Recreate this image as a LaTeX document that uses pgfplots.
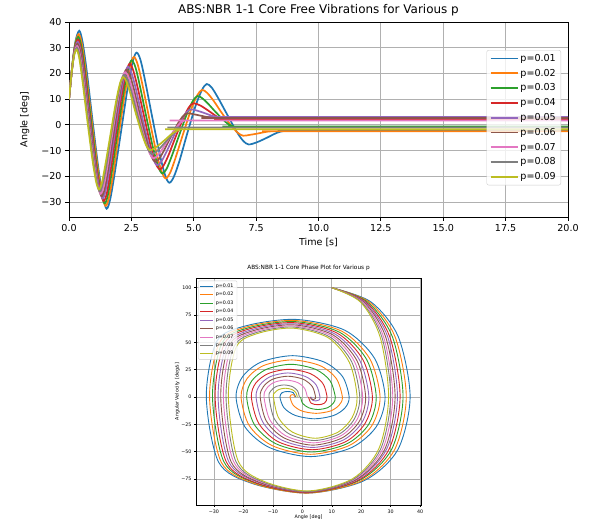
\documentclass[border=0pt]{standalone}
\usepackage{pgfplots}
\pgfplotsset{compat=1.18}
\usepackage{pgfplotstable}
\usepackage{fontspec}
\setmainfont{DejaVu Sans}
\definecolor{C0}{HTML}{1F77B4}
\definecolor{C1}{HTML}{FF7F0E}
\definecolor{C2}{HTML}{2CA02C}
\definecolor{C3}{HTML}{D62728}
\definecolor{C4}{HTML}{9467BD}
\definecolor{C5}{HTML}{8C564B}
\definecolor{C6}{HTML}{E377C2}
\definecolor{C7}{HTML}{7F7F7F}
\definecolor{C8}{HTML}{BCBD22}
\definecolor{gridc}{HTML}{B0B0B0}
\definecolor{legc}{HTML}{CCCCCC}

% columns: t = time [s], a = angle [deg], v = angular velocity [deg/s]
\pgfplotstableread{
t a v
0 10 100
0.135 23.3 87
0.262 32.6 55
0.41 36.6 0
0.54 32.4 -48.4
0.71 21.0 -76.6
0.94 2.0 -88.0
1.18 -17.0 -79.2
1.37 -28.4 -59.8
1.51 -32.6 0
1.65 -29.0 51.1
1.83 -18.9 65.3
2.09 -2.3 71.0
2.35 14.4 61.1
2.55 24.5 35.5
2.71 28.1 0
2.87 25.1 -27.3
3.06 16.7 -46.4
3.34 2.8 -54.6
3.63 -11.1 -46.4
3.85 -19.5 -27.3
4.02 -22.5 0
4.20 -20.2 18.9
4.43 -13.9 32.1
4.74 -3.3 37.8
5.07 7.3 32.1
5.33 13.6 18.9
5.52 15.9 0
5.72 14.5 -10.0
5.97 10.6 -17.0
6.33 4.2 -20.0
6.70 -2.3 -17.0
6.98 -6.2 -10.0
7.20 -7.6 0
7.52 -6.8 4.0
7.93 -5.0 5.0
8.33 -3.1 4.0
8.65 -2.3 0
9.2 -2.3 nan
20 -2.3 nan
}\tA
\pgfplotstableread{
t a v
0 10 100
0.129 22.7 87
0.250 31.5 55
0.39 35.3 0
0.52 31.3 -48.4
0.68 20.3 -76.6
0.91 1.9 -88.0
1.15 -16.5 -79.2
1.33 -27.5 -59.8
1.47 -31.5 0
1.61 -28.0 50.4
1.78 -18.5 64.4
2.01 -2.6 70.0
2.26 13.4 60.2
2.45 22.9 35.0
2.60 26.4 0
2.75 23.6 -26.3
2.94 15.8 -44.6
3.21 2.8 -52.5
3.49 -10.2 -44.6
3.71 -18.0 -26.3
3.87 -20.8 0
4.05 -18.7 17.0
4.26 -13.1 28.8
4.57 -3.6 33.9
4.89 5.9 28.8
5.14 11.5 17.0
5.33 13.6 0
5.53 12.5 -7.5
5.78 9.6 -12.8
6.12 4.7 -15.0
6.49 -0.2 -12.8
6.77 -3.1 -7.5
6.98 -4.2 0
7.23 -3.9 1.7
7.54 -3.4 2.1
7.85 -2.8 1.7
8.10 -2.5 0
8.6 -2.5 nan
20 -2.5 nan
}\tB
\pgfplotstableread{
t a v
0 10 100
0.122 22.1 87
0.237 30.6 55
0.37 34.2 0
0.50 30.3 -48.1
0.66 19.6 -76.1
0.88 1.9 -87.5
1.11 -15.9 -78.8
1.29 -26.6 -59.5
1.43 -30.5 0
1.56 -27.2 49.7
1.72 -18.0 63.5
1.95 -2.7 69.0
2.19 12.6 59.3
2.37 21.8 34.5
2.51 25.1 0
2.66 22.5 -25.2
2.84 15.2 -42.8
3.10 3.1 -50.4
3.37 -9.0 -42.8
3.58 -16.3 -25.2
3.74 -18.9 0
3.91 -17.1 15.0
4.12 -12.1 25.4
4.42 -3.9 29.9
4.73 4.4 25.4
4.97 9.4 15.0
5.15 11.2 0
5.32 10.5 -5.8
5.54 8.6 -9.8
5.85 5.3 -11.5
6.17 2.1 -9.8
6.41 0.1 -5.8
6.60 -0.6 0
7.1 -0.6 nan
20 -0.6 nan
}\tC
\pgfplotstableread{
t a v
0 10 100
0.119 21.6 87
0.230 29.7 55
0.36 33.2 0
0.48 29.4 -48.1
0.64 19.1 -76.1
0.85 1.8 -87.5
1.08 -15.5 -78.8
1.26 -25.8 -59.5
1.39 -29.6 0
1.52 -26.4 49.0
1.67 -17.6 62.6
1.89 -2.9 68.0
2.12 11.8 58.5
2.30 20.6 34.0
2.43 23.8 0
2.57 21.3 -24.2
2.75 14.6 -41.1
3.01 3.3 -48.3
3.27 -8.1 -41.1
3.47 -14.8 -24.2
3.63 -17.3 0
3.79 -15.8 12.7
4.00 -11.5 21.5
4.28 -4.5 25.3
4.58 2.6 21.5
4.81 6.9 12.7
4.99 8.4 0
5.27 7.5 -5.7
5.62 5.3 -7.1
5.97 3.0 -5.7
6.25 2.1 0
6.8 2.1 nan
20 2.1 nan
}\tD
\pgfplotstableread{
t a v
0 10 100
0.116 21.2 87
0.224 29.0 55
0.35 32.3 0
0.47 28.6 -47.9
0.62 18.6 -75.7
0.83 1.9 -87.0
1.05 -14.9 -78.3
1.22 -25.0 -59.2
1.35 -28.6 0
1.47 -25.5 48.2
1.62 -17.1 61.6
1.84 -3.0 67.0
2.06 11.1 57.6
2.23 19.5 33.5
2.36 22.6 0
2.50 20.3 -23.1
2.68 14.0 -39.3
2.92 3.5 -46.2
3.18 -7.1 -39.3
3.38 -13.4 -23.1
3.53 -15.7 0
3.69 -14.4 11.0
3.89 -10.8 18.7
4.17 -4.9 22.0
4.46 1.1 18.7
4.69 4.7 11.0
4.86 6.0 0
5.11 5.6 -2.9
5.43 4.6 -3.6
5.75 3.5 -2.9
6.00 3.1 0
6.5 3.1 nan
20 3.1 nan
}\tE
\pgfplotstableread{
t a v
0 10 100
0.112 20.8 87
0.218 28.3 55
0.34 31.5 0
0.46 28.0 -47.9
0.60 18.2 -75.7
0.81 1.9 -87.0
1.02 -14.4 -78.3
1.18 -24.2 -59.2
1.31 -27.7 0
1.43 -24.8 47.5
1.58 -16.6 60.7
1.79 -3.1 66.0
2.00 10.4 56.8
2.17 18.6 33.0
2.30 21.5 0
2.44 19.4 -22.1
2.61 13.5 -37.5
2.85 3.6 -44.1
3.11 -6.2 -37.5
3.30 -12.2 -22.1
3.45 -14.3 0
3.61 -13.2 9.5
3.80 -10.1 16.2
4.07 -4.9 19.0
4.35 0.3 16.2
4.57 3.4 9.5
4.74 4.5 0
4.97 4.2 -1.9
5.27 3.6 -2.4
5.57 3.0 -1.9
5.80 2.7 0
6.3 2.7 nan
20 2.7 nan
}\tF
\pgfplotstableread{
t a v
0 10 100
0.107 20.4 87
0.208 27.6 55
0.325 30.7 0
0.44 27.3 -47.6
0.58 17.8 -75.3
0.78 2.0 -86.5
0.99 -13.9 -77.9
1.15 -23.4 -58.8
1.27 -26.8 0
1.39 -24.0 46.8
1.54 -16.2 59.8
1.74 -3.2 65.0
1.96 9.9 55.9
2.12 17.7 32.5
2.25 20.5 0
2.39 18.5 -21.0
2.56 13.0 -35.7
2.79 3.8 -42.0
3.04 -5.5 -35.7
3.23 -11.0 -21.0
3.38 -13.0 0
3.53 -12.1 7.8
3.72 -9.7 13.2
3.98 -5.7 15.5
4.25 -1.6 13.2
4.46 0.8 7.8
4.62 1.7 0
5.1 1.7 nan
20 1.7 nan
}\tG
\pgfplotstableread{
t a v
0 10 100
0.104 20.0 87
0.202 27.0 55
0.315 30.0 0
0.43 26.6 -47.6
0.56 17.4 -75.3
0.76 2.1 -86.5
0.96 -13.3 -77.9
1.12 -22.6 -58.8
1.235 -25.9 0
1.35 -23.2 46.1
1.50 -15.7 58.9
1.70 -3.2 64.0
1.92 9.3 55.0
2.08 16.8 32.0
2.21 19.5 0
2.34 17.7 -20.0
2.51 12.6 -33.9
2.74 4.1 -39.9
2.98 -4.4 -33.9
3.17 -9.5 -20.0
3.31 -11.3 0
3.46 -10.7 5.5
3.65 -9.0 9.4
3.91 -6.2 11.0
4.19 -3.3 9.4
4.40 -1.6 5.5
4.56 -1.0 0
5.0 -1.0 nan
20 -1.0 nan
}\tH
\pgfplotstableread{
t a v
0 10 100
0.099 19.7 87
0.192 26.4 55
0.30 29.3 0
0.41 26.0 -47.3
0.54 17.1 -74.8
0.73 2.1 -86.0
0.93 -12.9 -77.4
1.08 -21.8 -58.5
1.20 -25.1 0
1.32 -22.5 45.4
1.46 -15.3 58.0
1.67 -3.3 63.0
1.88 8.8 54.2
2.04 16.0 31.5
2.17 18.6 0
2.30 16.9 -18.9
2.46 12.2 -32.1
2.68 4.4 -37.8
2.92 -3.4 -32.1
3.10 -8.1 -18.9
3.24 -9.8 0
3.39 -9.3 4.0
3.58 -8.0 6.8
3.85 -5.8 8.0
4.12 -3.5 6.8
4.34 -2.2 4.0
4.50 -1.7 0
4.9 -1.7 nan
20 -1.7 nan
}\tI

\begin{document}
\begin{tikzpicture}
\path[use as bounding box] (0bp,0bp) rectangle (592bp,524bp);
% ---------------- top: time history ----------------
\begin{axis}[
  at={(69bp,307bp)}, anchor=south west, scale only axis,
  width=499bp, height=195bp,
  xmin=0, xmax=20, ymin=-35.8, ymax=40,
  xtick={0,2.5,5,7.5,10,12.5,15,17.5,20},
  xticklabels={0.0,2.5,5.0,7.5,10.0,12.5,15.0,17.5,20.0},
  ytick={-30,-20,-10,0,10,20,30,40},
  yticklabels={−30,−20,−10,0,10,20,30,40},
  tick pos=left, tick align=outside, major tick length=4bp,
  tick style={line width=0.8bp, black},
  grid=major, grid style={gridc, line width=0.8bp},
  axis line style={line width=0.8bp},
  ticklabel style={font=\fontsize{9.6}{11}\selectfont},
  title={ABS:NBR 1-1 Core Free Vibrations for Various p},
  title style={font=\fontsize{12}{14}\selectfont, yshift=-3.5bp},
  xlabel={Time [s]}, ylabel={Angle [deg]},
  label style={font=\fontsize{9.6}{11}\selectfont},
  xlabel style={yshift=0bp}, ylabel style={yshift=5bp},
  legend style={at={(0.986,0.856)}, anchor=north east,
    font=\fontsize{9.6}{11}\selectfont, draw=legc, fill=white,
    fill opacity=0.8, text opacity=1, rounded corners=2bp,
    row sep=2.2bp, inner xsep=3bp, inner ysep=2bp},
  legend cell align=left,
  legend image code/.code={\draw[#1] (0bp,0bp) -- (27bp,0bp);},
  every axis plot/.append style={line width=1.7bp},
]
\addplot[C0, smooth] table[x=t, y=a] {\tA};
\addplot[C1, smooth] table[x=t, y=a] {\tB};
\addplot[C2, smooth] table[x=t, y=a] {\tC};
\addplot[C3, smooth] table[x=t, y=a] {\tD};
\addplot[C4, smooth] table[x=t, y=a] {\tE};
\addplot[C5, smooth] table[x=t, y=a] {\tF};
\addplot[C6, smooth] table[x=t, y=a] {\tG};
\addplot[C7, smooth] table[x=t, y=a] {\tH};
\addplot[C8, smooth] table[x=t, y=a] {\tI};
\legend{p=0.01,p=0.02,p=0.03,p=0.04,p=0.05,p=0.06,p=0.07,p=0.08,p=0.09}
\end{axis}
% ---------------- bottom: phase plot ----------------
\begin{axis}[
  at={(196bp,19bp)}, anchor=south west, scale only axis,
  width=225bp, height=227bp,
  xmin=-36.1, xmax=40.3, ymin=-98.9, ymax=108.9,
  xtick={-30,-20,-10,0,10,20,30,40},
  xticklabels={−30,−20,−10,0,10,20,30,40},
  ytick={-75,-50,-25,0,25,50,75,100},
  yticklabels={−75,−50,−25,0,25,50,75,100},
  tick pos=left, tick align=outside, major tick length=2bp,
  tick style={line width=0.5bp, black},
  grid=major, grid style={gridc, line width=0.7bp},
  axis line style={line width=0.8bp},
  ticklabel style={font=\fontsize{4.8}{5.5}\selectfont},
  xticklabel style={yshift=1bp}, yticklabel style={xshift=1bp},
  title={ABS:NBR 1-1 Core Phase Plot for Various p},
  title style={font=\fontsize{5.8}{7}\selectfont, yshift=-2.5bp},
  xlabel={Angle [deg]}, ylabel={Angular Velocity [deg/s]},
  label style={font=\fontsize{4.8}{5.5}\selectfont},
  xlabel style={yshift=5bp}, ylabel style={yshift=-5bp},
  legend style={at={(0.01,0.988)}, anchor=north west,
    font=\fontsize{4.8}{5.5}\selectfont, draw=legc, fill=white,
    fill opacity=0.8, text opacity=1, rounded corners=1bp,
    row sep=-0.6bp, inner xsep=1.5bp, inner ysep=1bp},
  legend cell align=left,
  legend image code/.code={\draw[#1] (0bp,0bp) -- (13bp,0bp);},
  every axis plot/.append style={line width=0.9bp},
]
\addplot[C0, smooth] table[x=a, y=v] {\tA};
\addplot[C1, smooth] table[x=a, y=v] {\tB};
\addplot[C2, smooth] table[x=a, y=v] {\tC};
\addplot[C3, smooth] table[x=a, y=v] {\tD};
\addplot[C4, smooth] table[x=a, y=v] {\tE};
\addplot[C5, smooth] table[x=a, y=v] {\tF};
\addplot[C6, smooth] table[x=a, y=v] {\tG};
\addplot[C7, smooth] table[x=a, y=v] {\tH};
\addplot[C8, smooth] table[x=a, y=v] {\tI};
\legend{p=0.01,p=0.02,p=0.03,p=0.04,p=0.05,p=0.06,p=0.07,p=0.08,p=0.09}
\end{axis}
\end{tikzpicture}
\end{document}
